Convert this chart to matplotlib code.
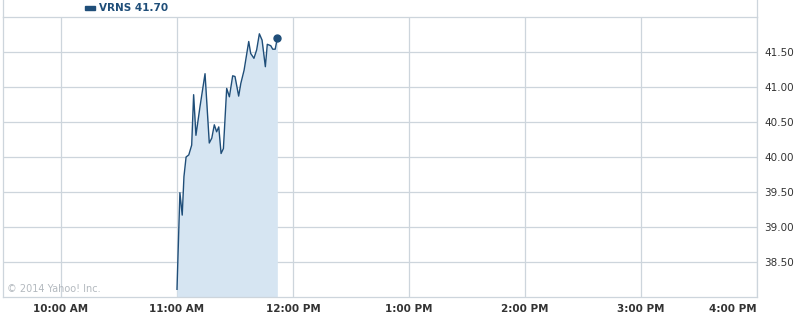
import matplotlib
matplotlib.use("Agg")
import matplotlib.pyplot as plt

# VRNS intraday price (times as HH:MM, price in USD)
times = ["11:00", "11:01.5", "11:02.7", "11:03.6", "11:04.7", "11:06.1", "11:07.6",
         "11:08.6", "11:09.8", "11:11.9", "11:14.5", "11:16.7", "11:18", "11:19.3",
         "11:20.5", "11:21.6", "11:22.8", "11:24", "11:25.7", "11:27.1", "11:28.8",
         "11:30", "11:31.9", "11:33", "11:34.7", "11:37.1", "11:38.1", "11:39.8",
         "11:41.2", "11:42.6", "11:44", "11:45.7", "11:46.7", "11:48.5", "11:49.5",
         "11:50.8", "11:51.9"]
prices = [38.11, 39.49, 39.17, 39.72, 40.00, 40.03, 40.17, 40.89, 40.31, 40.72,
          41.19, 40.20, 40.27, 40.46, 40.36, 40.43, 40.05, 40.12, 40.98, 40.86,
          41.16, 41.15, 40.87, 41.05, 41.24, 41.65, 41.48, 41.41, 41.53, 41.76,
          41.67, 41.29, 41.61, 41.59, 41.54, 41.54, 41.70]

x_ticks = [10, 11, 12, 13, 14, 15, 16]
x_labels = ["10:00 AM", "11:00 AM", "12:00 PM", "1:00 PM", "2:00 PM", "3:00 PM", "4:00 PM"]
y_ticks = [38.5, 39.0, 39.5, 40.0, 40.5, 41.0, 41.5]


def to_hours(s):
    h, m = s.split(":")
    return int(h) + float(m) / 60


x = [to_hours(t) for t in times]

grid_c = "#cdd5dc"
line_c = "#1f4e79"
fill_c = "#d6e5f2"

fig = plt.figure(figsize=(7.94, 3.14), dpi=100)
ax = fig.add_axes([3 / 794, 17 / 314, 754 / 794, 280 / 314])

ax.fill_between(x, prices, 38.0, color=fill_c, lw=0)
ax.plot(x, prices, color=line_c, lw=1)
ax.plot(x[-1], prices[-1], "o", color=line_c, ms=5)

ax.set_xlim(9.5, 16)
ax.set_ylim(38.0, 42.0)

ax.set_xticks(x_ticks)
ax.set_yticks(y_ticks)
ax.set_xticklabels(x_labels, fontweight="bold")
ax.set_yticklabels(["%.2f" % v for v in y_ticks])
ax.tick_params(length=0, labelsize=7.5, labelcolor="#333333")
ax.tick_params(axis="x", pad=5)
ax.tick_params(axis="y", pad=5)
ax.yaxis.tick_right()
ax.get_xticklabels()[-1].set_horizontalalignment("right")
ax.grid(True, color=grid_c, lw=0.9)
ax.set_axisbelow(True)
for s in ax.spines.values():
    s.set_color(grid_c)
    s.set_linewidth(0.9)

# right and left borders continue up past the top gridline
fig.add_artist(plt.Line2D([757 / 794, 757 / 794], [297 / 314, 1], color=grid_c, lw=0.9))
fig.add_artist(plt.Line2D([3 / 794, 3 / 794], [297 / 314, 1], color=grid_c, lw=0.9))

# legend
fig.add_artist(plt.Rectangle((85 / 794, 1 - 10 / 314), 10 / 794, 4 / 314, color=line_c))
fig.text(99 / 794, 1 - 8 / 314, "VRNS 41.70", color=line_c, fontsize=7.5,
         fontweight="bold", va="center", ha="left")

ax.text(0.005, 0.012, "\u00a9 2014 Yahoo! Inc.", transform=ax.transAxes,
        fontsize=7, color="#b3b9bf", va="bottom")

plt.savefig("out.png", dpi=100)
